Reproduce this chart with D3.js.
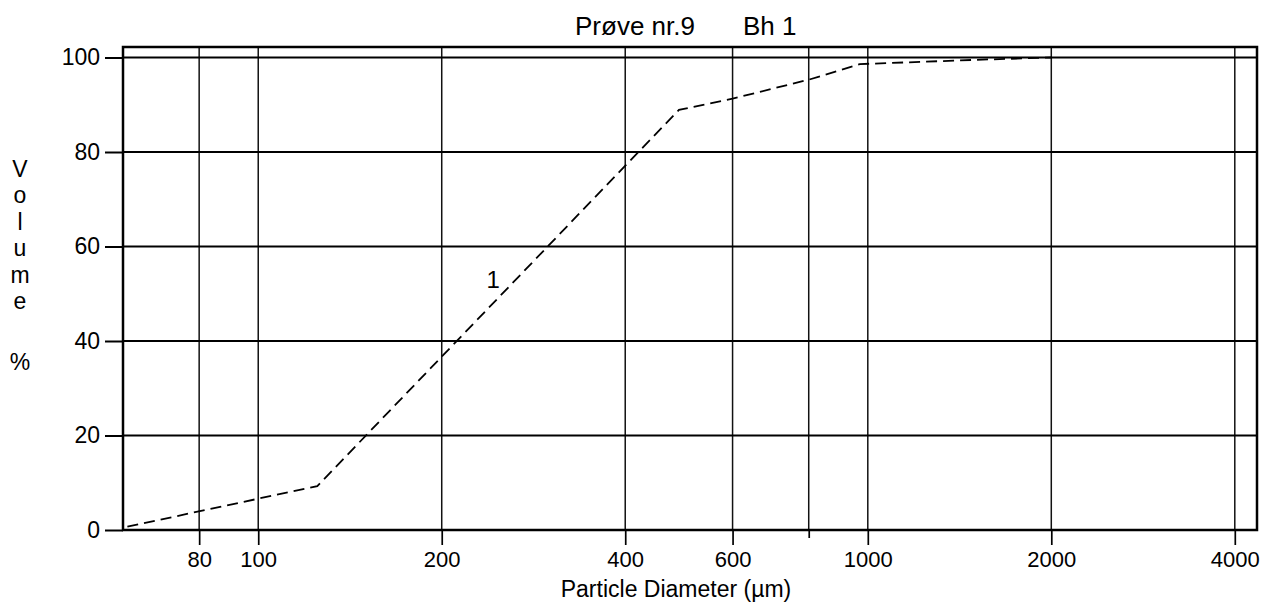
<!DOCTYPE html>
<html><head><meta charset="utf-8">
<script src="https://cdn.jsdelivr.net/npm/d3@7"></script>
<style>
body{margin:0;background:#fff}
text{font-family:"Liberation Sans",Arial,sans-serif;fill:#000}
</style>
</head><body>
<svg id="c" width="1267" height="606"></svg>
<script>
// ---- data ----
const diameters = [61, 125, 490, 600, 800, 970, 1500, 2000];     // µm
const volumes   = [0.7, 9.3, 88.9, 91.3, 95.3, 98.6, 99.5, 100];  // cumulative %
const xTickValues = [80, 100, 200, 400, 600, 800, 1000, 2000, 4000];
const xTickLabels = ["80", "100", "200", "400", "600", "", "1000", "2000", "4000"];
const yTickValues = [0, 20, 40, 60, 80, 100];
const titleParts = ["Prøve nr.9", "Bh 1"];
const yLabelLetters = ["V", "o", "l", "u", "m", "e"];
const xLabel = "Particle Diameter (µm)";
const seriesLabel = "1";

// ---- layout ----
const L = 123, R = 1257, T = 47, B = 530;
const svg = d3.select("#c");
const x = d3.scaleLog().domain([60, 4350]).range([L, R]);
const y = d3.scaleLinear().domain([0, 100]).range([B, 57.5]);

// vertical grid
svg.append("g").selectAll("line").data(xTickValues).join("line")
  .attr("x1", d => x(d)).attr("x2", d => x(d))
  .attr("y1", T).attr("y2", B)
  .attr("stroke", "#111").attr("stroke-width", 1.5);

// horizontal grid
svg.append("g").selectAll("line").data(yTickValues).join("line")
  .attr("x1", L).attr("x2", R)
  .attr("y1", d => y(d)).attr("y2", d => y(d))
  .attr("stroke", "#000").attr("stroke-width", 2.2);

// frame
svg.append("rect").attr("x", L).attr("y", T).attr("width", R - L).attr("height", B - T)
  .attr("fill", "none").attr("stroke", "#000").attr("stroke-width", 2.5);

// x axis
const gx = svg.append("g").attr("transform", `translate(0,${B})`)
  .call(d3.axisBottom(x).tickValues(xTickValues)
    .tickFormat((d, i) => xTickLabels[i]).tickSize(15).tickPadding(6));
gx.select(".domain").remove();
gx.selectAll(".tick line").attr("stroke", "#000").attr("stroke-width", 1.7)
  .filter(d => d === 800).attr("y2", 8);
gx.selectAll(".tick text").attr("font-size", 22).attr("font-family", "Liberation Sans, Arial, sans-serif").attr("fill", "#000");

// y axis
const gy = svg.append("g").attr("transform", `translate(${L},0)`)
  .call(d3.axisLeft(y).tickValues(yTickValues).tickSize(18).tickPadding(5));
gy.select(".domain").remove();
gy.selectAll(".tick line").attr("stroke", "#000").attr("stroke-width", 2);
gy.selectAll(".tick text").attr("font-size", 23).attr("font-family", "Liberation Sans, Arial, sans-serif").attr("fill", "#000");

// curve
const line = d3.line().x((d, i) => x(diameters[i])).y((d, i) => y(volumes[i]));
svg.append("path").datum(volumes).attr("d", line)
  .attr("fill", "none").attr("stroke", "#000").attr("stroke-width", 1.8)
  .attr("stroke-dasharray", "11,6");

// curve label
svg.append("text").attr("x", x(243)).attr("y", y(51.2)).attr("text-anchor", "middle")
  .attr("font-size", 24).text(seriesLabel);

// title
svg.append("text").attr("x", 575).attr("y", 35).attr("font-size", 26).text(titleParts[0]);
svg.append("text").attr("x", 743).attr("y", 35).attr("font-size", 26).text(titleParts[1]);

// x label
svg.append("text").attr("x", 676).attr("y", 597).attr("text-anchor", "middle")
  .attr("font-size", 23).text(xLabel);

// y label (stacked letters)
svg.append("g").selectAll("text").data(yLabelLetters).join("text")
  .attr("x", 20).attr("y", (d, i) => 177 + i * 26.4).attr("text-anchor", "middle")
  .attr("font-size", 23).text(d => d);
svg.append("text").attr("x", 20).attr("y", 370).attr("text-anchor", "middle")
  .attr("font-size", 23).text("%");
</script>
</body></html>
